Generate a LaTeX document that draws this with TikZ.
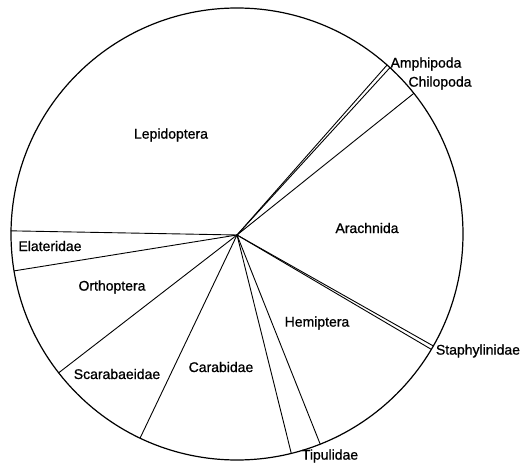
\documentclass[tikz,border=0pt]{standalone}
\usepackage{fontspec}
\setmainfont[FakeBold=0.9]{Liberation Sans}
\usetikzlibrary{calc}
\begin{document}
\begin{tikzpicture}[x=1pt,y=1pt,
  rim/.style={line width=1.2pt},
  spoke/.style={line width=0.9pt, line cap=round},
  lab/.style={font=\fontsize{14}{16}\selectfont, inner sep=0pt, anchor=center}]
\useasboundingbox (0,0) rectangle (522,463);
\coordinate (c) at (237,229);
\coordinate (h) at (237,228);
\draw[rim] (c) circle (226);
% spokes
\foreach \a/\n in {48.4/p1,47.4/p2,38.5/p3,-29.7/p4,-30.7/p5,-68.4/p6,-76.1/p7,-115.4/p8,217.9/p9,189.4/p10,179.2/p11}{
  \coordinate (\n) at ($(c)+(\a:226)$);
}
\foreach \n in {p1,p2,p3,p4,p5,p6,p7,p8,p9,p10,p11}{
  \draw[spoke] (h) -- (\n);
}
% labels
\node[lab] (lepi) at (171,328) {Lepidoptera};
\node[lab] (arach) at (367,235) {Arachnida};
\node[lab] (amph) at (426,399) {Amphipoda};
\node[lab] (chil) at (440,380) {Chilopoda};
\node[lab] (stap) at (478,112) {Staphylinidae};
\node[lab] (tipu) at (330,7) {Tipulidae};
\node[lab] (hemi) at (317,140) {Hemiptera};
\node[lab] (cara) at (221,96) {Carabidae};
\node[lab] (scar) at (117,89) {Scarabaeidae};
\node[lab] (orth) at (112,176) {Orthoptera};
\node[lab] (elat) at (50,217) {Elateridae};
\end{tikzpicture}
\end{document}
